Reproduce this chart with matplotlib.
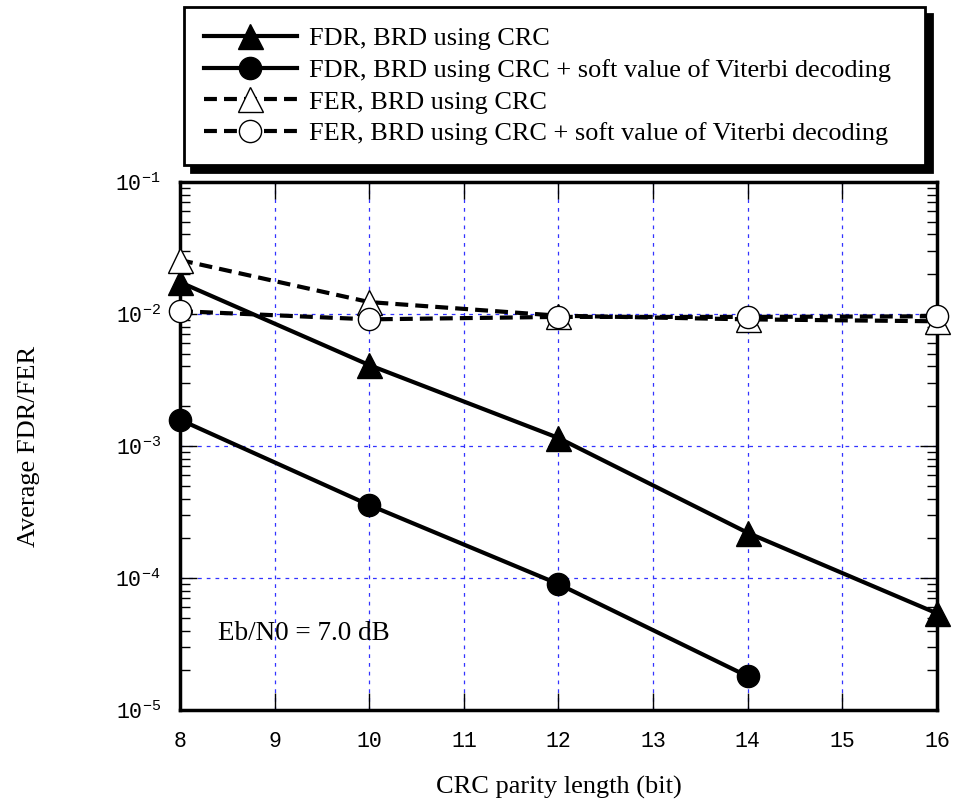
import matplotlib.pyplot as plt
from matplotlib.ticker import LogLocator, NullFormatter

plt.rcParams['font.family'] = ['Liberation Serif', 'DejaVu Serif']
plt.rcParams['mathtext.fontset'] = 'custom'
plt.rcParams['mathtext.rm'] = 'Liberation Mono'

# CRC parity length (bit)
crc_len = [8, 10, 12, 14, 16]
crc_len_soft = [8, 10, 12, 14]

fdr_crc = [1.74e-2, 4.1e-3, 1.15e-3, 2.2e-4, 5.4e-5]
fdr_soft = [1.58e-3, 3.57e-4, 9.0e-5, 1.8e-5]
fer_crc = [2.56e-2, 1.23e-2, 9.7e-3, 9.1e-3, 8.8e-3]
fer_soft = [1.05e-2, 9.1e-3, 9.5e-3, 9.5e-3, 9.6e-3]

labels = ["FDR, BRD using CRC",
          "FDR, BRD using CRC + soft value of Viterbi decoding",
          "FER, BRD using CRC",
          "FER, BRD using CRC + soft value of Viterbi decoding"]

fig = plt.figure(figsize=(9.55, 8.05), dpi=100)
ax = fig.add_axes([0.1885, 0.118, 0.7925, 0.656])

lw = 3.0
dash = (3.1, 1.7)
h1, = ax.plot(crc_len, fdr_crc, '-', color='black', lw=lw, marker='^',
              ms=18, mfc='black', mec='black', clip_on=False, zorder=3)
h2, = ax.plot(crc_len_soft, fdr_soft, '-', color='black', lw=lw, marker='o',
              ms=16, mfc='black', mec='black', clip_on=False, zorder=3)
h3, = ax.plot(crc_len, fer_crc, '--', color='black', lw=lw, marker='^',
              ms=18, mfc='white', mec='black', mew=1.0, clip_on=False,
              zorder=4, dashes=dash)
h4, = ax.plot(crc_len, fer_soft, '--', color='black', lw=lw, marker='o',
              ms=16, mfc='white', mec='black', mew=1.0, clip_on=False,
              zorder=5, dashes=dash)

ax.set_yscale('log')
ax.set_xlim(8, 16)
ax.set_ylim(1e-5, 1e-1)
ax.set_xticks(range(8, 17))
ax.yaxis.set_major_locator(LogLocator(base=10, numticks=10))
ax.yaxis.set_minor_locator(LogLocator(base=10, subs=range(2, 10), numticks=20))
ax.yaxis.set_minor_formatter(NullFormatter())

ax.grid(True, which='major', color='#3333ff', linestyle=(0, (3, 4)), lw=0.9)
ax.tick_params(which='both', direction='in', top=True, right=True,
               labelsize=15.5)
ax.tick_params(axis='x', pad=15)
ax.tick_params(axis='y', pad=14)
ax.tick_params(which='major', length=12, width=1)
ax.tick_params(which='minor', length=7, width=1)
for lab in ax.get_xticklabels() + ax.get_yticklabels():
    lab.set_fontfamily('Liberation Mono')
for s in ax.spines.values():
    s.set_linewidth(2.5)

ax.set_xlabel('CRC parity length (bit)', fontsize=19, labelpad=17)
ax.set_ylabel('Average FDR/FER', fontsize=19, labelpad=54)
ax.text(8.4, 3.8e-5, 'Eb/N0 = 7.0 dB', fontsize=19.5, va='center', ha='left')

leg = fig.legend([h1, h2, h3, h4], labels, loc='upper left',
                 bbox_to_anchor=(0.1927, 0.80, 0.776, 0.1913), mode='expand',
                 borderaxespad=0, fontsize=18.9,
                 handlelength=3.55, handletextpad=0.45, labelspacing=0.32,
                 borderpad=0.75, fancybox=False, framealpha=1,
                 edgecolor='black',
                 shadow={'ox': 5, 'oy': -5, 'color': 'black', 'alpha': 1})
leg.get_frame().set_linewidth(2)

fig.savefig('out.png', dpi=100, facecolor='white')
